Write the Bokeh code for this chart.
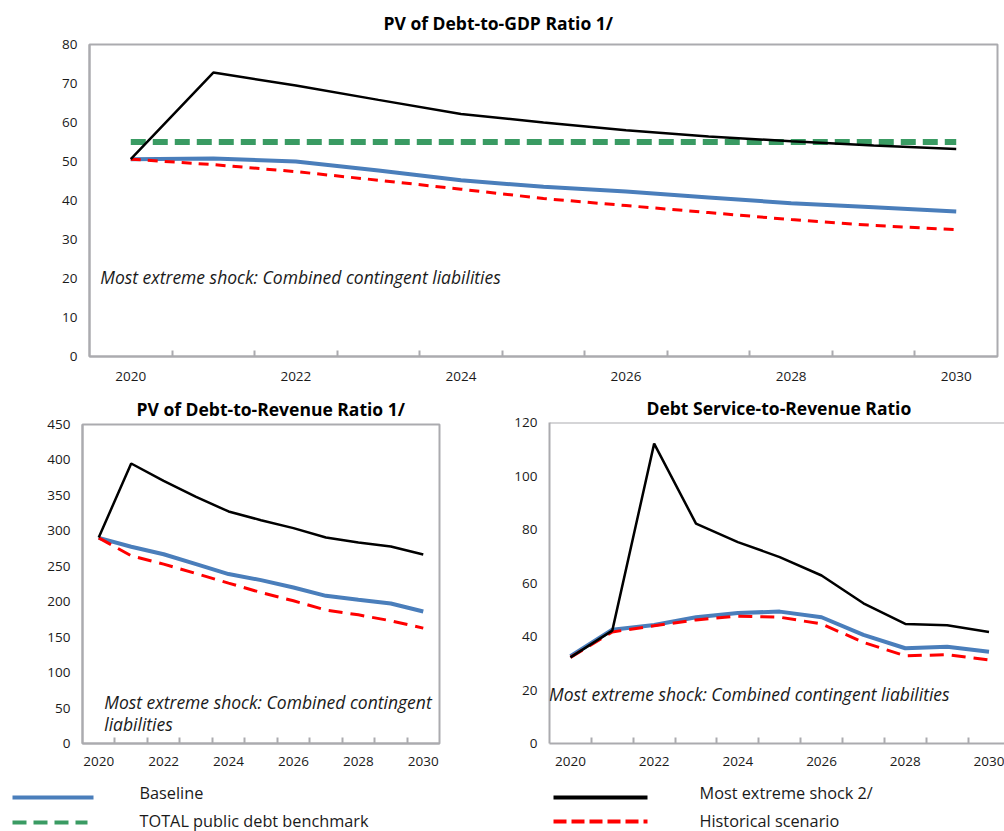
from bokeh.plotting import figure
from bokeh.layouts import column, row
from bokeh.models import FixedTicker, Range1d, Label, Span
from bokeh.embed import file_html
from bokeh.resources import INLINE

years = [2020, 2021, 2022, 2023, 2024, 2025, 2026, 2027, 2028, 2029, 2030]
tick_years = [2020, 2022, 2024, 2026, 2028, 2030]

gdp_ticks = [0, 10, 20, 30, 40, 50, 60, 70, 80]
gdp_baseline = [50.6, 50.8, 50.0, 47.7, 45.2, 43.5, 42.3, 40.8, 39.3, 38.3, 37.2]
gdp_extreme = [50.6, 72.8, 69.5, 65.8, 62.2, 60.0, 58.0, 56.4, 55.2, 54.1, 53.2]
gdp_historical = [50.6, 49.2, 47.4, 45.2, 42.9, 40.5, 38.7, 36.9, 35.1, 33.6, 32.5]
gdp_benchmark = [55, 55, 55, 55, 55, 55, 55, 55, 55, 55, 55]

rev_ticks = [0, 50, 100, 150, 200, 250, 300, 350, 400, 450]
rev_baseline = [290, 277.5, 267, 253, 239, 230.5, 220, 208.3, 202.7, 197.5, 186.2]
rev_extreme = [290.6, 395, 370.6, 348, 327.3, 315, 303.8, 290.6, 283.5, 277.9, 266.6]
rev_historical = [290, 264.8, 253, 239.8, 226.2, 213, 201.3, 188.2, 181.5, 173.1, 162.8]

ds_ticks = [0, 20, 40, 60, 80, 100, 120]
ds_baseline = [32.6, 42.5, 44.3, 47.2, 48.8, 49.3, 47.2, 40.6, 35.6, 36.2, 34.3]
ds_extreme = [32.2, 42.2, 112.1, 82.2, 75.3, 69.7, 62.8, 52.4, 44.7, 44.2, 41.7]
ds_historical = [32.2, 41.7, 44.0, 46.2, 47.6, 47.2, 44.7, 37.8, 32.8, 33.2, 31.2]

titles = ["PV of Debt-to-GDP Ratio 1/", "PV of Debt-to-Revenue Ratio 1/", "Debt Service-to-Revenue Ratio"]
note = "Most extreme shock: Combined contingent liabilities"
legend_labels = ["Baseline", "TOTAL public debt benchmark", "Most extreme shock 2/", "Historical scenario"]

FONT = "Open Sans"
GRAY = "#ABABAF"
BLUE = "#4A7EBB"
GREEN = "#3A9B63"
RED = "#FF0000"
TXT = "#1a1a1a"


def no_align(p):
    if "frame_align" in p.properties():
        p.frame_align = False


def panel(width, height, ymax, yticks, borders, title, t_offset, t_standoff,
          xend=2030.5, outline=True, xstand=12):
    bl, br, bt, bb = borders
    p = figure(width=width, height=height, output_backend="svg", toolbar_location=None,
               x_range=Range1d(2019.5, xend), y_range=Range1d(0, ymax),
               min_border_left=bl, min_border_right=br, min_border_top=bt, min_border_bottom=bb)
    no_align(p)
    p.title.text = title
    p.title.align = "left"
    p.title.offset = t_offset
    p.title.standoff = t_standoff
    p.title.vertical_align = "middle"
    p.title.text_font = FONT
    p.title.text_font_size = "17.5px"
    p.title.text_font_style = "bold"
    p.title.text_color = "black"
    p.xgrid.visible = False
    p.ygrid.visible = False
    p.background_fill_color = "white"
    p.border_fill_color = "white"
    if outline:
        p.outline_line_color = GRAY
        p.outline_line_width = 2
    else:
        p.outline_line_color = None
        p.add_layout(Span(location=ymax, dimension="width", line_color=GRAY, line_width=2))
    minor = [y + 0.5 for y in years[:-1]]
    p.xaxis.ticker = FixedTicker(ticks=tick_years, minor_ticks=minor)
    p.xaxis.major_tick_in = 0
    p.xaxis.major_tick_out = 0
    p.xaxis.minor_tick_in = 6
    p.xaxis.minor_tick_out = 0
    p.xaxis.minor_tick_line_color = GRAY
    p.xaxis.minor_tick_line_width = 2
    p.xaxis.major_label_standoff = xstand
    p.yaxis.ticker = FixedTicker(ticks=yticks)
    p.yaxis.major_tick_in = 0
    p.yaxis.major_tick_out = 0
    p.yaxis.minor_tick_in = 0
    p.yaxis.minor_tick_out = 0
    p.yaxis.major_label_standoff = 12
    for ax in (p.xaxis, p.yaxis):
        ax.axis_line_color = GRAY
        ax.axis_line_width = 2
        ax.major_label_text_font = FONT
        ax.major_label_text_font_size = "13.5px"
        ax.major_label_text_color = TXT
    return p


def add_lines(p, base, hist, extreme, bench=None, red_dash="10 7"):
    p.line(years, base, line_color=BLUE, line_width=4)
    p.line(years, hist, line_color=RED, line_width=3, line_dash=red_dash)
    if bench is not None:
        p.line(years, bench, line_color=GREEN, line_width=6, line_dash="15 7")
    p.line(years, extreme, line_color="black", line_width=2.5)


def note_label(p, x, y, text):
    p.add_layout(Label(x=x, y=y, text=text, text_font=FONT, text_font_size="17.5px",
                       text_font_style="italic", text_align="left", text_baseline="middle",
                       text_color=TXT))


# Top panel
top = panel(1004, 392, 80, gdp_ticks, (89, 7, 44, 36), titles[0], 294, 18, xstand=15)
add_lines(top, gdp_baseline, gdp_historical, gdp_extreme, gdp_benchmark, red_dash="10 7")
note_label(top, 2019.63, 20.5, note)

# Bottom-left panel
bl = panel(500, 388, 450, rev_ticks, (82, 61, 32, 37), titles[1], 54, 6, xstand=13)
add_lines(bl, rev_baseline, rev_historical, rev_extreme, red_dash="14 8")
note_label(bl, 2020.17, 58.8, "Most extreme shock: Combined contingent")
note_label(bl, 2020.17, 27.8, "liabilities")

# Bottom-right panel (cropped at the right edge)
br = panel(504, 388, 120, ds_ticks, (49, 0, 30, 37), titles[2], 97, 4,
           xend=2030.37, outline=False, xstand=13)
add_lines(br, ds_baseline, ds_historical, ds_extreme, red_dash="14 8")
note_label(br, 2019.49, 18.6, note)

# Legend strip (page pixel coordinates)
leg = figure(width=1004, height=51, output_backend="svg", toolbar_location=None,
             x_range=Range1d(0, 1004), y_range=Range1d(831, 780),
             min_border=0, min_border_left=0, min_border_right=0, min_border_top=0, min_border_bottom=0)
no_align(leg)
leg.axis.visible = False
leg.xgrid.visible = False
leg.ygrid.visible = False
leg.outline_line_color = None
leg.line([12, 93], [797, 797], line_color=BLUE, line_width=4)
leg.line([12, 87], [822, 822], line_color=GREEN, line_width=4, line_dash="14 7")
leg.line([553, 647], [797, 797], line_color="black", line_width=4)
leg.line([553, 647], [821, 821], line_color=RED, line_width=4, line_dash="13 5")
leg.text(x=[139, 139, 699, 699], y=[792, 820, 792, 820], text=legend_labels,
         text_font={"value": FONT}, text_font_size={"value": "16.3px"}, text_color=TXT,
         text_baseline="middle", text_align="left")

layout = column(top, row(bl, br), row(leg))
open("out.html", "w").write(file_html(layout, INLINE))
